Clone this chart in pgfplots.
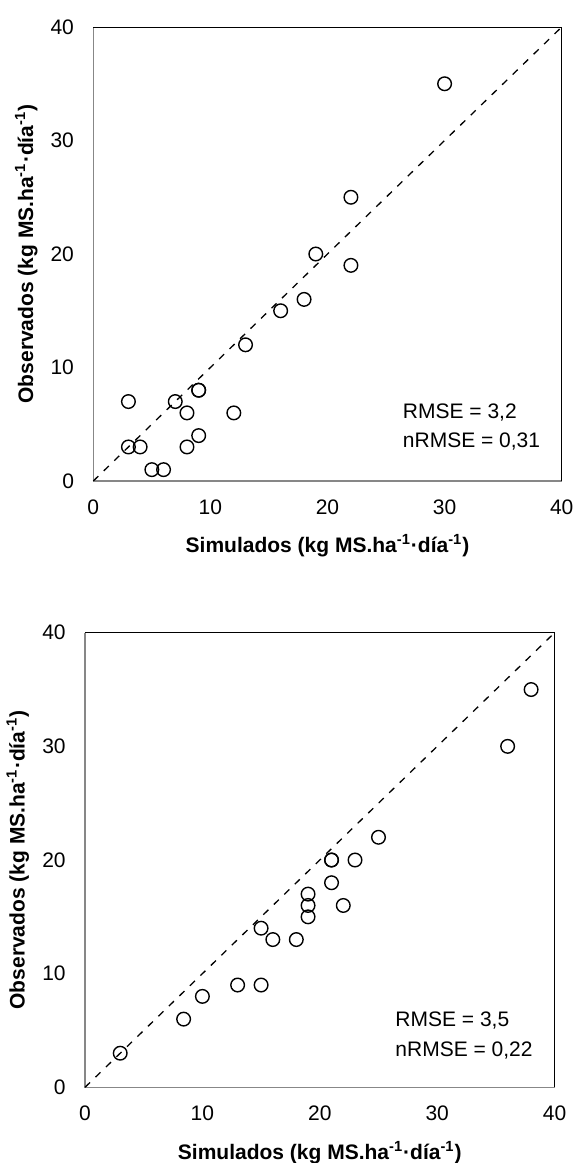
\documentclass[border=0pt]{standalone}
\usepackage{fontspec}
\setmainfont{Liberation Sans}
\usepackage{pgfplots}
\pgfplotsset{compat=1.18}

\definecolor{axgray}{HTML}{878787}

\pgfplotsset{
  scatterbox/.style={
    scale only axis,
    clip=false,
    xmin=0, xmax=40, ymin=0, ymax=40,
    xtick={0,10,...,40}, ytick={0,10,...,40},
    major tick length=0pt,
    axis line style={draw=none},
    tick label style={font=\fontsize{10.5}{12}\selectfont},
    /pgf/number format/assume math mode=true,
    yticklabel style={xshift=-6.15pt},
    xticklabel style={yshift=-5.9pt},
    label style={font=\fontsize{10.5}{12}\selectfont\bfseries},
    xlabel={Simulados (kg MS.ha\textsuperscript{-1}·día\textsuperscript{-1})},
    ylabel={Observados (kg MS.ha\textsuperscript{-1}·día\textsuperscript{-1})},
    xlabel style={at={(axis description cs:0.5,-0.143)}, anchor=center},
    ylabel style={at={(axis description cs:-0.143,0.5)}, anchor=center},
  },
  obs/.style={only marks, mark=o, mark size=3.4pt, mark options={line width=0.7pt}, black},
  ident/.style={black, line width=0.65pt, dash pattern=on 3.5pt off 3.8pt},
}

\newcommand{\drawframe}{%
  \draw[axgray, line width=0.75pt] (rel axis cs:0,1) -- (rel axis cs:0,0) -- (rel axis cs:1,0);
  \draw[black, line width=0.5pt] (rel axis cs:0,1) -- (rel axis cs:1,1) -- (rel axis cs:1,0);
}

\begin{document}
\begin{tikzpicture}
\useasboundingbox (-46.65pt,-341pt) rectangle (240.35pt,240.5pt);

% upper panel
\begin{axis}[scatterbox, at={(0pt,0pt)}, anchor=south west, width=234.2pt, height=227pt]
\drawframe
\addplot[ident] coordinates {(0,0) (40,40)};
\addplot[obs] coordinates {
  (30,35) (22,25) (19,20) (22,19) (18,16) (16,15) (13,12) (9,8) (9,8)
  (3,7) (7,7) (8,6) (12,6) (9,4) (3,3) (4,3) (8,3) (5,1) (6,1)
};
\node[anchor=west, font=\fontsize{10.5}{12}\selectfont] at (rel axis cs:0.646,0.150) {RMSE = 3,2};
\node[anchor=west, font=\fontsize{10.5}{12}\selectfont] at (rel axis cs:0.646,0.086) {nRMSE = 0,31};
\end{axis}

% lower panel
\begin{axis}[scatterbox, at={(-4.15pt,-303.15pt)}, anchor=south west, width=234.8pt, height=227.3pt]
\drawframe
\addplot[ident] coordinates {(0,0) (40,40)};
\addplot[obs] coordinates {
  (38,35) (36,30) (25,22) (21,20) (21,20) (23,20) (21,18) (19,17) (19,16)
  (22,16) (19,15) (15,14) (16,13) (18,13) (13,9) (15,9) (10,8) (8.4,6) (3,3)
};
\node[anchor=west, font=\fontsize{10.5}{12}\selectfont] at (rel axis cs:0.646,0.148) {RMSE = 3,5};
\node[anchor=west, font=\fontsize{10.5}{12}\selectfont] at (rel axis cs:0.646,0.082) {nRMSE = 0,22};
\end{axis}
\end{tikzpicture}
\end{document}
